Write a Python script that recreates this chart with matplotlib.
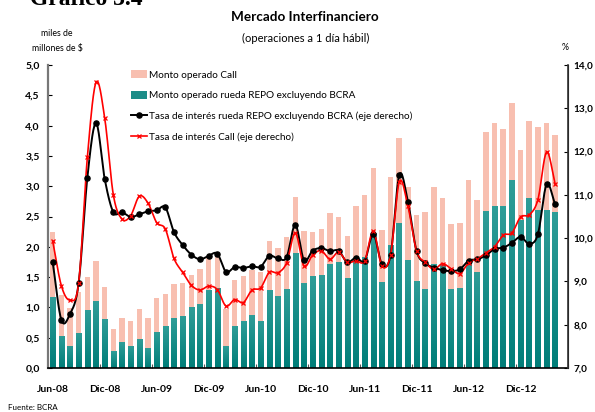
import numpy as np
import matplotlib
matplotlib.use('Agg')
import matplotlib.pyplot as plt
from matplotlib.patches import Patch
from matplotlib.lines import Line2D
from matplotlib.colors import LinearSegmentedColormap

# ---------------- data ----------------
tick_labels = ['Jun-08', 'Dic-08', 'Jun-09', 'Dic-09', 'Jun-10', 'Dic-10',
               'Jun-11', 'Dic-11', 'Jun-12', 'Dic-12']

# Monto operado rueda REPO excluyendo BCRA (miles de millones de $), Jun-08 .. Apr-13
repo = [1.17, 0.53, 0.37, 0.58, 0.95, 1.11, 0.81, 0.28, 0.42, 0.37,
        0.47, 0.33, 0.60, 0.70, 0.83, 0.86, 1.00, 1.05, 1.28, 1.32,
        0.36, 0.70, 0.78, 0.88, 0.78, 1.28, 1.18, 1.31, 1.90, 1.40,
        1.52, 1.53, 1.71, 1.75, 1.49, 1.78, 1.83, 2.22, 1.42, 2.03,
        2.39, 1.79, 1.44, 1.30, 1.72, 1.72, 1.30, 1.32, 1.78, 1.59,
        2.59, 2.68, 2.67, 3.11, 2.45, 2.81, 2.60, 2.60, 2.57]

# Monto operado Call (miles de millones de $)
call = [1.07, 0.68, 0.62, 0.67, 0.55, 0.65, 0.52, 0.36, 0.41, 0.40,
        0.51, 0.50, 0.55, 0.52, 0.55, 0.54, 0.53, 0.58, 0.55, 0.55,
        0.62, 0.75, 0.73, 0.73, 0.81, 0.81, 0.80, 0.85, 0.93, 0.86,
        0.72, 0.76, 0.84, 0.74, 0.69, 0.89, 1.02, 1.08, 0.85, 1.13,
        1.41, 1.19, 1.08, 1.27, 1.26, 1.08, 1.07, 1.07, 1.33, 1.18,
        1.30, 1.37, 1.28, 1.27, 1.14, 1.27, 1.38, 1.45, 1.28]

# Tasa de interés rueda REPO excluyendo BCRA (%)
tasa_repo = [9.44, 8.11, 8.25, 8.97, 11.40, 12.66, 11.37, 10.60, 10.60, 10.49,
             10.55, 10.62, 10.64, 10.71, 10.14, 9.84, 9.62, 9.51, 9.59, 9.64,
             9.22, 9.33, 9.31, 9.35, 9.34, 9.59, 9.53, 9.56, 10.31, 9.49,
             9.71, 9.77, 9.70, 9.71, 9.44, 9.55, 9.47, 10.09, 9.40, 9.61,
             11.46, 10.84, 9.70, 9.42, 9.32, 9.26, 9.24, 9.28, 9.48, 9.51,
             9.60, 9.75, 9.78, 9.89, 10.03, 9.87, 10.09, 11.24, 10.78]

# Tasa de interés Call (%)
tasa_call = [9.93, 8.90, 8.57, 8.97, 11.87, 13.60, 12.78, 11.00, 10.44, 10.52,
             10.97, 10.81, 10.36, 10.21, 9.53, 9.21, 8.91, 8.80, 8.89, 8.81,
             8.43, 8.58, 8.51, 8.80, 8.85, 9.21, 9.20, 9.43, 10.12, 9.36,
             9.61, 9.71, 9.51, 9.68, 9.44, 9.48, 9.47, 10.16, 9.36, 9.62,
             11.30, 10.74, 9.70, 9.44, 9.28, 9.41, 9.29, 9.18, 9.43, 9.52,
             9.66, 9.80, 10.07, 10.12, 10.49, 10.54, 10.89, 11.99, 11.24]

# ---------------- helpers ----------------
def catmull_rom(x, y, n=16):
    x = np.asarray(x, float); y = np.asarray(y, float)
    px = np.concatenate([[2 * x[0] - x[1]], x, [2 * x[-1] - x[-2]]])
    py = np.concatenate([[2 * y[0] - y[1]], y, [2 * y[-1] - y[-2]]])
    xs, ys = [], []
    t = np.linspace(0, 1, n, endpoint=False)
    for i in range(1, len(px) - 2):
        for p, out in ((px, xs), (py, ys)):
            p0, p1, p2, p3 = p[i - 1], p[i], p[i + 1], p[i + 2]
            out.append(0.5 * ((2 * p1) + (-p0 + p2) * t +
                              (2 * p0 - 5 * p1 + 4 * p2 - p3) * t ** 2 +
                              (-p0 + 3 * p1 - 3 * p2 + p3) * t ** 3))
    xs.append([x[-1]]); ys.append([y[-1]])
    return np.concatenate(xs), np.concatenate(ys)

FONT = 'Lato'
plt.rcParams['font.family'] = [FONT, 'DejaVu Sans']

pink = '#f8bfb0'
teal = '#1b8c87'
teal_cmap = LinearSegmentedColormap.from_list('t', ['#007e79', '#2f9d98'])

fig = plt.figure(figsize=(5.95, 4.12), dpi=100)
ax = fig.add_axes([0.081, 0.107, 0.874, 0.735])
ax2 = ax.twinx()

n = len(repo)
x = np.arange(n)
w = 0.64

bars_r = ax.bar(x, repo, width=w, color=teal, linewidth=0, zorder=2)
bars_c = ax.bar(x, call, width=w, bottom=repo, color=pink, linewidth=0, zorder=2)

grad = np.linspace(0, 1, 64).reshape(-1, 1)
for r in bars_r:
    x0, y0 = r.get_x(), r.get_y()
    im = ax.imshow(grad, extent=[x0, x0 + r.get_width(), y0, y0 + r.get_height()],
                   aspect='auto', cmap=teal_cmap, origin='lower', zorder=2.1,
                   interpolation='bilinear')
    im.set_clip_path(r)

ax.set_xlim(-0.52, 58.45)
ax.set_ylim(0, 5.0)
ax2.set_ylim(7.0, 14.0)

cx, cy = catmull_rom(x, tasa_repo)
ax2.plot(cx, cy, color='black', lw=1.4, zorder=3)
ax2.plot(x, tasa_repo, ls='none', marker='o', ms=3.7, color='black', zorder=4)
rx, ry = catmull_rom(x, tasa_call)
ax2.plot(rx, ry, color='#ff0000', lw=1.2, zorder=3)
ax2.plot(x, tasa_call, ls='none', marker='x', ms=3.5, mew=0.9, color='#ff0000', zorder=4)

# ticks
fmt = lambda v: ('%.1f' % v).replace('.', ',')
yt = np.arange(0, 5.01, 0.5)
ax.set_yticks(yt)
ax.set_yticklabels([fmt(v) for v in yt], fontweight='bold', fontsize=7.5)
yt2 = np.arange(7, 14.01, 1.0)
ax2.set_yticks(yt2)
ax2.set_yticklabels([fmt(v) for v in yt2], fontweight='bold', fontsize=7.2)
ax.tick_params(axis='y', direction='in', length=3, width=0.8, pad=6)
ax2.tick_params(axis='y', direction='in', length=3, width=0.8, pad=4)

label_pos = np.arange(len(tick_labels)) * 6
ax.set_xticks(label_pos + 5.5)
ax.set_xticklabels([])
ax.set_xticks(label_pos, minor=True)
ax.set_xticklabels(tick_labels, minor=True, fontweight='bold', fontsize=7.5)
ax.tick_params(axis='x', which='major', direction='in', length=3, width=0.8, color='#555555')
ax.tick_params(axis='x', which='minor', length=0, pad=12)

for a in (ax, ax2):
    a.spines['top'].set_visible(False)
ax.spines['left'].set_color('#777777')
ax.spines['left'].set_linewidth(1.6)
ax2.spines['left'].set_visible(False)
ax2.spines['right'].set_color('#333333')
ax2.spines['right'].set_linewidth(1.2)
ax.spines['bottom'].set_linewidth(1.2)
ax2.spines['bottom'].set_visible(False)

# legend
handles = [Patch(facecolor=pink, edgecolor='none'),
           Patch(facecolor=teal, edgecolor='none'),
           Line2D([], [], color='black', lw=1.4, marker='o', ms=3.7),
           Line2D([], [], color='#ff0000', lw=1.2, marker='x', ms=3.5, mew=0.9)]
labels = ['Monto operado Call',
          'Monto operado rueda REPO excluyendo BCRA',
          'Tasa de interés rueda REPO excluyendo BCRA (eje derecho)',
          'Tasa de interés Call (eje derecho)']
leg = ax2.legend(handles, labels, loc='upper left', bbox_to_anchor=(0.151, 0.997),
                 frameon=False, fontsize=7.2, handlelength=1.6, handleheight=0.9,
                 handletextpad=0.25, labelspacing=1.12, borderaxespad=0)
leg.set_zorder(10)

# texts
fig.text(0.145, 1 - 5 / 412, 'Gráfico 3.4', ha='center', va='baseline',
         family='Liberation Serif', fontweight='bold', fontsize=17)
fig.text(0.513, 1 - 17 / 412, 'Mercado Interfinanciero', ha='center', va='center',
         fontweight='bold', fontsize=9.7)
fig.text(0.513, 1 - 38 / 412, '(operaciones a 1 día hábil)', ha='center', va='center',
         fontsize=8)
fig.text(0.096, 1 - 34 / 412, 'miles de', ha='center', va='center', fontsize=6.3)
fig.text(0.096, 1 - 48 / 412, 'millones de $', ha='center', va='center', fontsize=6.3)
fig.text(0.950, 1 - 47 / 412, '%', ha='center', va='center', fontsize=6.3)
fig.text(0.013, 1 - 407 / 412, 'Fuente: BCRA', ha='left', va='center', fontsize=5.8)

fig.savefig('out.png', dpi=100)
